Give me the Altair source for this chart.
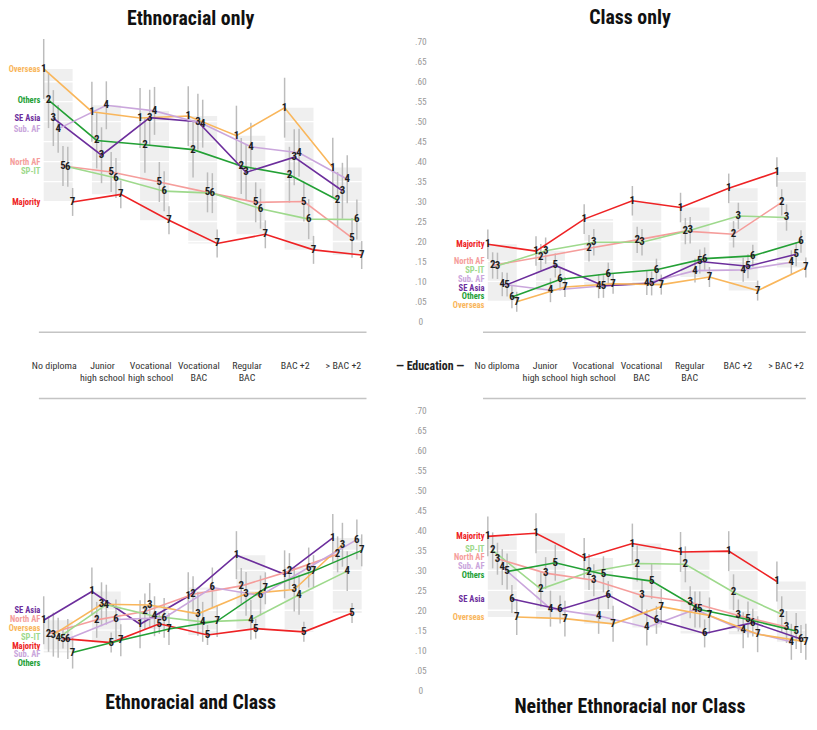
import altair as alt
import numpy as np
import pandas as pd

FONT = "Roboto Condensed, Roboto, Liberation Sans, sans-serif"

EDUCATION = ["No diploma", "Junior\nhigh school", "Vocational\nhigh school",
             "Vocational\nBAC", "Regular\nBAC", "BAC +2", "> BAC +2"]

GROUPS = ["Overseas", "Others", "SE Asia", "Sub. AF", "North AF", "SP-IT", "Majority"]
GROUP_COLORS = ["#f9b65b", "#23a035", "#6c2e9c", "#caa6dc", "#f59d9b", "#9ed98c", "#ee2224"]

# ---- Panel 1: Ethnoracial only (rows follow ETHNO_ONLY_ORDER)
ETHNO_ONLY_ORDER = ["Overseas", "Others", "SE Asia", "Sub. AF", "North AF", "SP-IT", "Majority"]
ETHNO_ONLY_VALUES = [
    [0.632, 0.525, 0.509, 0.514, 0.465, 0.535, 0.385],
    [0.554, 0.453, 0.442, 0.430, 0.389, 0.367, 0.304],
    [0.509, 0.416, 0.510, 0.500, 0.373, 0.411, 0.327],
    [0.482, 0.541, 0.527, 0.495, 0.437, 0.422, 0.356],
    [0.389, 0.374, 0.349, 0.323, 0.298, 0.300, 0.209],
    [0.387, 0.359, 0.326, 0.321, 0.282, 0.256, 0.255],
    [0.299, 0.318, 0.253, 0.195, 0.218, 0.179, 0.166],
]
ETHNO_ONLY_CI = [0.075, 0.070, 0.070, 0.060, 0.050, 0.050, 0.035]

# ---- Panel 2: Class only
CLASS_ONLY_ORDER = ["Majority", "North AF", "SP-IT", "Sub. AF", "SE Asia", "Others", "Overseas"]
CLASS_ONLY_VALUES = [
    [0.193, 0.176, 0.256, 0.302, 0.285, 0.333, 0.374],
    [0.140, 0.161, 0.183, 0.204, 0.226, 0.218, 0.298],
    [0.139, 0.177, 0.198, 0.198, 0.228, 0.264, 0.260],
    [0.093, 0.078, 0.088, 0.096, 0.127, 0.129, 0.148],
    [0.092, 0.140, 0.089, 0.095, 0.150, 0.138, 0.168],
    [0.061, 0.105, 0.119, 0.129, 0.157, 0.164, 0.200],
    [0.049, 0.086, 0.094, 0.092, 0.111, 0.077, 0.135],
]
CLASS_ONLY_CI = [0.037, 0.033, 0.033, 0.030, 0.030, 0.028, 0.025]

# ---- Panel 3: Ethnoracial and Class
BOTH_ORDER = ["SE Asia", "North AF", "Overseas", "SP-IT", "Majority", "Sub. AF", "Others"]
BOTH_VALUES = [
    [0.175, 0.247, 0.165, 0.235, 0.338, 0.290, 0.381],
    [0.141, 0.176, 0.197, 0.240, 0.261, 0.298, 0.340],
    [0.139, 0.215, 0.213, 0.191, 0.241, 0.252, 0.364],
    [0.131, 0.214, 0.185, 0.171, 0.176, 0.239, 0.298],
    [0.129, 0.119, 0.166, 0.138, 0.154, 0.146, 0.193],
    [0.128, 0.177, 0.181, 0.257, 0.237, 0.307, 0.377],
    [0.094, 0.125, 0.153, 0.173, 0.255, 0.298, 0.350],
]
BOTH_CI = [0.060, 0.045, 0.055, 0.050, 0.025, 0.050, 0.040]

# ---- Panel 4: Neither Ethnoracial nor Class
NEITHER_ORDER = ["Majority", "SP-IT", "North AF", "Sub. AF", "Others", "SE Asia", "Overseas"]
NEITHER_VALUES = [
    [0.385, 0.393, 0.331, 0.367, 0.346, 0.348, 0.272],
    [0.350, 0.253, 0.296, 0.317, 0.315, 0.245, 0.190],
    [0.329, 0.293, 0.275, 0.237, 0.220, 0.187, 0.158],
    [0.308, 0.204, 0.186, 0.157, 0.202, 0.150, 0.121],
    [0.297, 0.319, 0.290, 0.273, 0.202, 0.177, 0.148],
    [0.228, 0.202, 0.238, 0.176, 0.142, 0.169, 0.128],
    [0.183, 0.179, 0.166, 0.209, 0.187, 0.140, 0.121],
]
NEITHER_CI = [0.050, 0.045, 0.040, 0.045, 0.045, 0.035, 0.045]

# ---- layout constants
STEP_PX = 48.6
RANK_STEP = 0.1
LEFT_DOMAIN = [-1.0, 6.5]
RIGHT_DOMAIN = [-1.0, 6.3]
Y_MAX = 0.70
PLOT_H = 282
MID_H = 90
TICKS = [round(v, 2) for v in np.arange(0, 0.701, 0.05)]
LABEL_GAP = 0.0222
SEP_TOP = -0.027
SEP_BOTTOM = 0.730

color_scale = alt.Scale(domain=GROUPS, range=GROUP_COLORS)


def spread_labels(vals, gap):
    clusters = [[k] for k in range(len(vals))]

    def layout(c):
        center = sum(vals[k] for k in c) / len(c)
        n = len(c)
        return [center + gap * ((n - 1) / 2 - j) for j in range(n)]

    changed = True
    while changed:
        changed = False
        for j in range(len(clusters) - 1):
            a = layout(clusters[j])
            b = layout(clusters[j + 1])
            if a[-1] - b[0] < gap - 1e-9:
                clusters[j] = clusters[j] + clusters[j + 1]
                del clusters[j + 1]
                changed = True
                break
    out = []
    for c in clusters:
        out += layout(c)
    return out


def make_panel(title, order, values, ci, side, row):
    dom = LEFT_DOMAIN if side == "left" else RIGHT_DOMAIN
    width = (dom[1] - dom[0]) * STEP_PX
    xs = alt.Scale(domain=dom, nice=False, zero=False)
    ys = alt.Scale(domain=[0, Y_MAX], nice=False, zero=False)
    if side == "right":
        yaxis = alt.Axis(values=TICKS, title=None, ticks=False, domain=False, grid=False,
                         labelExpr="datum.value == 0 ? '0' : substring(format(datum.value, '.2f'), 1)",
                         labelAlign="center", labelPadding=34, labelColor="#9a9a9a",
                         labelFont=FONT, labelFontSize=9.5)
    else:
        yaxis = None

    rows = []
    for r, (g, vals) in enumerate(zip(order, values), start=1):
        for i, v in enumerate(vals):
            rows.append(dict(group=g, rank=str(r), edu=i, x=i + (r - 4) * RANK_STEP,
                             v=v, lo=v - ci[r - 1], hi=v + ci[r - 1]))
    pts = pd.DataFrame(rows)
    boxes = pts.groupby("edu").agg(ymin=("v", "min"), ymax=("v", "max")).reset_index()
    boxes["x1"] = boxes["edu"] - 3 * RANK_STEP
    boxes["x2"] = boxes["edu"] + 3 * RANK_STEP

    first = [vals[0] for vals in values]
    ly = spread_labels(first, LABEL_GAP)
    labels = pd.DataFrame({"group": order, "ly": ly, "lx": [-3 * RANK_STEP - 0.07] * len(order)})

    sep = pd.DataFrame({"x1": [-0.4], "x2": [min(6.4, dom[1])],
                        "y": [SEP_TOP if row == "top" else SEP_BOTTOM]})

    X = lambda f: alt.X(f, type="quantitative", scale=xs, axis=None)
    Y = lambda f: alt.Y(f, type="quantitative", scale=ys, axis=yaxis)

    box_l = alt.Chart(boxes).mark_rect(color="#efefef").encode(
        x=X("x1"), x2="x2", y=Y("ymax"), y2="ymin")
    grid_l = alt.Chart(pd.DataFrame({"g": TICKS[1:]})).mark_rule(
        color="white", strokeWidth=1.3).encode(y=Y("g"))
    err_l = alt.Chart(pts).mark_rule(color="#bcbcbc", strokeWidth=1.5).encode(
        x=X("x"), y=Y("lo"), y2="hi")
    line_l = alt.Chart(pts).mark_line(strokeWidth=1.6).encode(
        x=X("x"), y=Y("v"),
        color=alt.Color("group:N", scale=color_scale, legend=None),
        order="edu:Q")
    num_l = alt.Chart(pts).mark_text(font=FONT, fontSize=11, fontWeight="bold",
                                     color="#1e1e1e").encode(
        x=X("x"), y=Y("v"), text="rank:N")
    lab_l = alt.Chart(labels).mark_text(font=FONT, fontSize=8.6, fontWeight="bold",
                                        align="right", baseline="middle").encode(
        x=X("lx"), y=Y("ly"), text="group:N",
        color=alt.Color("group:N", scale=color_scale, legend=None))
    sep_l = alt.Chart(sep).mark_rule(color="#c4c4c4", strokeWidth=1.5).encode(
        x=X("x1"), x2="x2", y=Y("y"))

    t = alt.TitleParams(title, orient="top" if row == "top" else "bottom",
                        fontSize=20, font=FONT, fontWeight="bold", color="#111111",
                        anchor="middle", offset=9 if row == "top" else 3)
    return alt.layer(box_l, grid_l, err_l, line_l, num_l, lab_l, sep_l).properties(
        width=width, height=PLOT_H, title=t)


def make_mid(side, label_shift, with_center):
    dom = LEFT_DOMAIN if side == "left" else RIGHT_DOMAIN
    width = (dom[1] - dom[0]) * STEP_PX
    xs = alt.Scale(domain=dom, nice=False, zero=False)
    ys = alt.Scale(domain=[0, 1], nice=False, zero=False)
    df = pd.DataFrame({"label": EDUCATION,
                       "x": [i + label_shift for i in range(len(EDUCATION))],
                       "y": [0.5] * len(EDUCATION)})
    layers = [alt.Chart(df).mark_text(font=FONT, fontSize=10, color="#333333",
                                      lineBreak="\n", baseline="middle").encode(
        x=alt.X("x:Q", scale=xs, axis=None), y=alt.Y("y:Q", scale=ys, axis=None),
        text="label:N")]
    if with_center:
        cdf = pd.DataFrame({"label": ["\u2014 Education \u2014"], "x": [7.72], "y": [0.5]})
        layers.append(alt.Chart(cdf).mark_text(font=FONT, fontSize=12, fontWeight="bold",
                                               color="#222222", baseline="middle").encode(
            x=alt.X("x:Q", scale=xs, axis=None), y=alt.Y("y:Q", scale=ys, axis=None),
            text="label:N"))
    return alt.layer(*layers).properties(width=width, height=MID_H)


p1 = make_panel("Ethnoracial only", ETHNO_ONLY_ORDER, ETHNO_ONLY_VALUES, ETHNO_ONLY_CI, "left", "top")
p2 = make_panel("Class only", CLASS_ONLY_ORDER, CLASS_ONLY_VALUES, CLASS_ONLY_CI, "right", "top")
p3 = make_panel("Ethnoracial and Class", BOTH_ORDER, BOTH_VALUES, BOTH_CI, "left", "bottom")
p4 = make_panel("Neither Ethnoracial nor Class", NEITHER_ORDER, NEITHER_VALUES, NEITHER_CI, "right", "bottom")
m1 = make_mid("left", -0.08, True)
m2 = make_mid("right", -0.11, False)

chart = alt.concat(p1, p2, m1, m2, p3, p4, columns=2,
                   spacing={"row": 0, "column": 83}, bounds="flush", align="each").properties(
    padding={"top": -3, "bottom": -5, "left": 0, "right": 0}, background="white"
).configure_view(stroke=None)

chart.save("out.html", embed_options={"renderer": "svg", "actions": False})
